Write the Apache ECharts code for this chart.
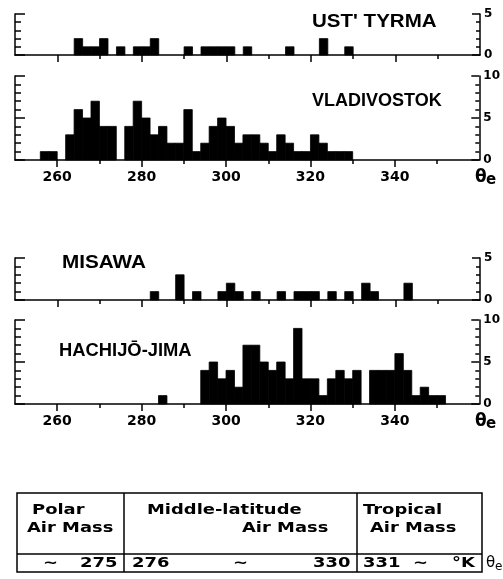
<!DOCTYPE html>
<html>
<head>
<meta charset="utf-8">
<script src="https://cdn.jsdelivr.net/npm/echarts@6/dist/echarts.min.js"></script>
<style>
  html, body { margin: 0; padding: 0; background: #fff; }
  #chart { width: 503px; height: 579px; }
</style>
</head>
<body>
<div id="chart"></div>
<script>
// bins are 2 K wide, value = left edge of the bin
const binStart = [256, 258, 260, 262, 264, 266, 268, 270, 272, 274,
                  276, 278, 280, 282, 284, 286, 288, 290, 292, 294,
                  296, 298, 300, 302, 304, 306, 308, 310, 312, 314,
                  316, 318, 320, 322, 324, 326, 328, 330, 332, 334,
                  336, 338, 340, 342, 344, 346, 348, 350, 352]
const binWidth = 2

const ustTyrma    = [0, 0, 0, 0, 2, 1, 1, 2, 0, 1,
                     0, 1, 1, 2, 0, 0, 0, 1, 0, 1,
                     1, 1, 1, 0, 1, 0, 0, 0, 0, 1,
                     0, 0, 0, 2, 0, 0, 1, 0, 0, 0,
                     0, 0, 0, 0, 0, 0, 0, 0, 0]
const vladivostok = [1, 1, 0, 3, 6, 5, 7, 4, 4, 0,
                     4, 7, 5, 3, 4, 2, 2, 6, 1, 2,
                     4, 5, 4, 2, 3, 3, 2, 1, 3, 2,
                     1, 1, 3, 2, 1, 1, 1, 0, 0, 0,
                     0, 0, 0, 0, 0, 0, 0, 0, 0]
const misawa      = [0, 0, 0, 0, 0, 0, 0, 0, 0, 0,
                     0, 0, 0, 1, 0, 0, 3, 0, 1, 0,
                     0, 1, 2, 1, 0, 1, 0, 0, 1, 0,
                     1, 1, 1, 0, 1, 0, 1, 0, 2, 1,
                     0, 0, 0, 2, 0, 0, 0, 0, 0]
const hachijoJima = [0, 0, 0, 0, 0, 0, 0, 0, 0, 0,
                     0, 0, 0, 0, 1, 0, 0, 0, 0, 4,
                     5, 3, 4, 2, 7, 7, 5, 4, 5, 3,
                     9, 3, 3, 1, 3, 4, 3, 4, 0, 4,
                     4, 4, 6, 4, 1, 2, 1, 1, 0]

const xLabels = [260, 280, 300, 320, 340]
const xMinorTicks = [270, 290, 310, 330, 350]

const panels = [
  { name: "UST' TYRMA", data: ustTyrma, yMax: 5, top: 14, height: 41, labels: false, nameX: 312, nameY: 22, nameScale: 1.14 },
  { name: 'VLADIVOSTOK', data: vladivostok, yMax: 10, top: 76, height: 84, labels: true, nameX: 312, nameY: 101, nameScale: 1 },
  { name: 'MISAWA', data: misawa, yMax: 5, top: 258, height: 42, labels: false, nameX: 62, nameY: 263, nameScale: 1.15 },
  { name: 'HACHIJŌ-JIMA', data: hachijoJima, yMax: 10, top: 320, height: 84, labels: true, nameX: 59, nameY: 351, nameScale: 1.02 }
]

const ink = '#000'
const line = { color: ink, width: 1.5 }
const numFont = { color: ink, fontFamily: 'DejaVu Sans', fontWeight: 'bold' }

const grid = [], xAxis = [], yAxis = [], series = [], graphic = []

panels.forEach((p, i) => {
  grid.push({ left: 15, right: 23, top: p.top, height: p.height })
  xAxis.push({
    gridIndex: i, type: 'value', min: 250, max: 360, interval: 10, position: 'bottom',
    axisLine: { onZero: false, lineStyle: line },
    axisTick: { customValues: xLabels, length: 7, lineStyle: line },
    axisLabel: { show: p.labels, customValues: xLabels, margin: 10, fontSize: 14, ...numFont },
    splitLine: { show: false }
  })
  xAxis.push({
    gridIndex: i, type: 'value', min: 250, max: 360, interval: 10, position: 'bottom',
    axisLine: { show: false },
    axisTick: { customValues: xMinorTicks, length: 4, lineStyle: line },
    axisLabel: { show: false },
    splitLine: { show: false }
  })
  yAxis.push({
    gridIndex: i, type: 'value', min: 0, max: p.yMax, interval: 5, position: 'left',
    axisLine: { show: true, onZero: false, lineStyle: line },
    axisTick: { inside: true, length: 10, lineStyle: line },
    minorTick: { show: true, splitNumber: 5, length: 6, lineStyle: line },
    axisLabel: { show: false },
    splitLine: { show: false }
  })
  yAxis.push({
    gridIndex: i, type: 'value', min: 0, max: p.yMax, interval: 5, position: 'right',
    axisLine: { show: true, onZero: false, lineStyle: line },
    axisTick: { inside: true, length: 8, lineStyle: line },
    minorTick: { show: true, splitNumber: 5, length: 4, lineStyle: line },
    axisLabel: { margin: 4, fontSize: 12, ...numFont },
    splitLine: { show: false }
  })
  series.push({
    type: 'custom',
    xAxisIndex: i * 2,
    yAxisIndex: i * 2,
    data: binStart.map((b, k) => [b, p.data[k]]),
    encode: { x: 0, y: 1 },
    renderItem: (params, api) => {
      const count = api.value(1)
      if (!count) return
      const start = api.value(0)
      const topLeft = api.coord([start, count])
      const bottomRight = api.coord([start + binWidth, 0])
      return {
        type: 'rect',
        shape: {
          x: topLeft[0], y: topLeft[1],
          width: bottomRight[0] - topLeft[0],
          height: bottomRight[1] - topLeft[1]
        },
        // thin stroke closes the hairline seams between neighbouring bins
        style: { fill: ink, stroke: ink, lineWidth: 0.8 }
      }
    }
  })
  graphic.push({
    type: 'text', x: p.nameX, y: p.nameY, scaleX: p.nameScale,
    style: { text: p.name, fill: ink, font: 'bold 18px "Liberation Sans"', verticalAlign: 'middle' }
  })
  if (p.labels) {
    const baseY = p.top + p.height
    graphic.push({ type: 'text', x: 475, y: baseY + 9, style: { text: 'θ', fill: ink, font: 'bold 17px "DejaVu Sans"' } })
    graphic.push({ type: 'text', x: 486, y: baseY + 13, style: { text: 'e', fill: ink, font: 'bold 15px "DejaVu Sans"' } })
  }
})

// air-mass table under the charts
const tableFont = 'bold 14px "DejaVu Sans"'
const cell = (text, x, y) => ({
  type: 'text', x: x, y: y, scaleX: 1.28,
  style: { text: text, fill: ink, font: tableFont, verticalAlign: 'middle' }
})
const hline = (x1, x2, y) => ({ type: 'line', shape: { x1, y1: y, x2, y2: y }, style: { stroke: ink, lineWidth: 1.5 } })
const vline = (x, y1, y2) => ({ type: 'line', shape: { x1: x, y1, x2: x, y2 }, style: { stroke: ink, lineWidth: 1.5 } })

graphic.push(
  { type: 'rect', shape: { x: 17, y: 493, width: 465, height: 79 }, style: { fill: 'none', stroke: ink, lineWidth: 1.5 } },
  vline(124, 493, 572),
  vline(357, 493, 572),
  hline(17, 482, 554),
  cell('Polar', 32, 510),
  cell('Air Mass', 27, 528),
  cell('Middle-latitude', 147, 510),
  cell('Air Mass', 242, 528),
  cell('Tropical', 363, 510),
  cell('Air Mass', 370, 528),
  cell('~', 43, 563),
  cell('275', 80, 563),
  cell('276', 132, 563),
  cell('~', 233, 563),
  cell('330', 313, 563),
  cell('331', 363, 563),
  cell('~', 413, 563),
  cell('°K', 452, 563),
  { type: 'text', x: 486, y: 556, style: { text: 'θ', fill: ink, font: '15px "DejaVu Sans"' } },
  { type: 'text', x: 495, y: 561, style: { text: 'e', fill: ink, font: '12px "DejaVu Sans"' } }
)

const chart = echarts.init(document.getElementById('chart'))
chart.setOption({
  animation: false,
  backgroundColor: '#fff',
  grid, xAxis, yAxis, series, graphic
})
</script>
</body>
</html>
